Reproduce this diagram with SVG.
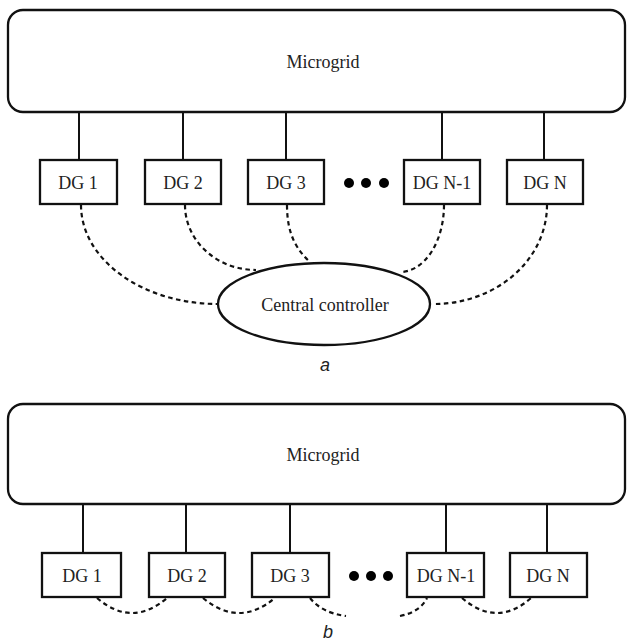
<svg xmlns="http://www.w3.org/2000/svg" width="627" height="641" viewBox="0 0 627 641">
<style>
.box{fill:#fff;stroke:#111;stroke-width:2.3}
.ln{fill:none;stroke:#111;stroke-width:2}
.dash{fill:none;stroke:#111;stroke-width:2.2;stroke-dasharray:4.5 3.5}
.t{font-family:"Liberation Serif","Times New Roman",serif;font-size:18px;fill:#222;text-anchor:middle}
.cap{font-family:"Liberation Sans",Arial,sans-serif;font-size:18px;font-style:italic;fill:#222;text-anchor:middle}
.dot{fill:#000}
</style>
<rect width="627" height="641" fill="#fff"/>

<!-- Diagram a -->
<g id="connectors-a">
<line class="ln" x1="79" y1="112" x2="79" y2="160"/>
<line class="ln" x1="183" y1="112" x2="183" y2="160"/>
<line class="ln" x1="286" y1="112" x2="286" y2="160"/>
<line class="ln" x1="442" y1="112" x2="442" y2="160"/>
<line class="ln" x1="544" y1="112" x2="544" y2="160"/>
<path class="dash" d="M81,205 A137,99 0 0 0 218,304"/>
<path class="dash" d="M185,205 A71,65 0 0 0 256,270"/>
<path class="dash" d="M287,205 C287,235 297,250 310,262"/>
<path class="dash" d="M444,205 A44,67 0 0 1 400,272"/>
<path class="dash" d="M547,205 A113,99 0 0 1 434,304"/>
</g>
<g id="microgrid-a">
<rect class="box" x="8" y="10" width="617" height="102" rx="15"/>
<text class="t" x="323" y="68">Microgrid</text>
</g>
<g id="dg1-a"><rect class="box" x="40" y="160" width="77" height="44"/><text class="t" x="78" y="189">DG 1</text></g>
<g id="dg2-a"><rect class="box" x="145" y="160" width="76" height="44"/><text class="t" x="183" y="189">DG 2</text></g>
<g id="dg3-a"><rect class="box" x="248" y="160" width="76" height="44"/><text class="t" x="286" y="189">DG 3</text></g>
<g id="dots-a"><circle class="dot" cx="349" cy="183" r="5"/><circle class="dot" cx="366" cy="183" r="5"/><circle class="dot" cx="384" cy="183" r="5"/></g>
<g id="dgn1-a"><rect class="box" x="404" y="160" width="76" height="44"/><text class="t" x="442" y="189">DG N-1</text></g>
<g id="dgn-a"><rect class="box" x="507" y="160" width="76" height="44"/><text class="t" x="545" y="189">DG N</text></g>
<g id="controller">
<ellipse class="box" cx="324" cy="304" rx="106" ry="41"/>
<text class="t" x="325" y="311">Central controller</text>
</g>
<text class="cap" x="325" y="371">a</text>

<!-- Diagram b -->
<g id="connectors-b">
<line class="ln" x1="83" y1="504" x2="83" y2="553"/>
<line class="ln" x1="186" y1="504" x2="186" y2="553"/>
<line class="ln" x1="290" y1="504" x2="290" y2="553"/>
<line class="ln" x1="446" y1="504" x2="446" y2="553"/>
<line class="ln" x1="547" y1="504" x2="547" y2="553"/>
<path class="dash" d="M97,598 Q132,628 167,598"/>
<path class="dash" d="M203,598 Q239,628 275,598"/>
<path class="dash" d="M310,598 Q322,613 346,616"/>
<path class="dash" d="M400,616 Q420,612 427,598"/>
<path class="dash" d="M462,598 Q497,628 531,598"/>
</g>
<g id="microgrid-b">
<rect class="box" x="8" y="404" width="617" height="100" rx="15"/>
<text class="t" x="323" y="461">Microgrid</text>
</g>
<g id="dg1-b"><rect class="box" x="42" y="553" width="79" height="44"/><text class="t" x="82" y="582">DG 1</text></g>
<g id="dg2-b"><rect class="box" x="149" y="553" width="76" height="44"/><text class="t" x="187" y="582">DG 2</text></g>
<g id="dg3-b"><rect class="box" x="252" y="553" width="77" height="44"/><text class="t" x="290" y="582">DG 3</text></g>
<g id="dots-b"><circle class="dot" cx="354" cy="576" r="5"/><circle class="dot" cx="371" cy="576" r="5"/><circle class="dot" cx="388" cy="576" r="5"/></g>
<g id="dgn1-b"><rect class="box" x="407" y="553" width="77" height="44"/><text class="t" x="446" y="582">DG N-1</text></g>
<g id="dgn-b"><rect class="box" x="510" y="553" width="77" height="44"/><text class="t" x="548" y="582">DG N</text></g>
<text class="cap" x="328" y="638">b</text>
</svg>
